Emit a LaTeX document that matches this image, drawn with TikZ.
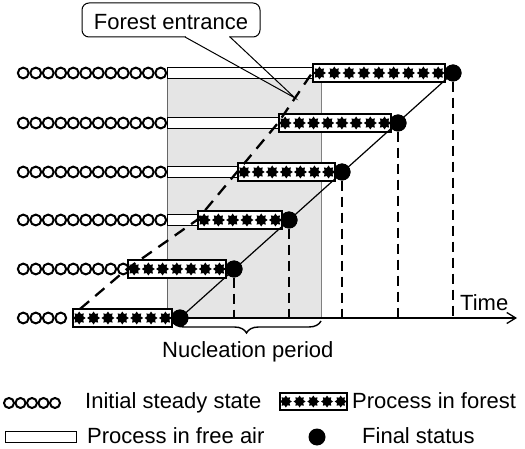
\documentclass[tikz,border=0pt]{standalone}
\usepackage{fontspec}
\setmainfont{Liberation Sans}
\usepackage{tikz}
\usetikzlibrary{calc, shapes.geometric, arrows.meta, decorations.pathreplacing}

\tikzset{
  airbox/.style={draw, fill=white, line width=1.4pt, minimum height=11pt, inner sep=0pt, anchor=west},
  forestbox/.style={draw, fill=white, line width=1.6pt, minimum height=18pt, inner sep=0pt, anchor=west},
  fdot/.style={circle, fill=black, minimum size=17pt, inner sep=0pt},
  ring/.style={line width=2pt},
  seed/.style={star, star points=8, star point ratio=1.5, fill=black, minimum size=13pt, inner sep=0pt},
  dropline/.style={line width=2.2pt, dash pattern=on 10pt off 6pt},
  lbl/.style={inner sep=0pt, anchor=base west},
}

\begin{document}
\begin{tikzpicture}[x=1pt, y=-1pt, font=\fontsize{22}{26}\selectfont]
  \useasboundingbox (0,0) rectangle (525,449);

  % nucleation zone
  \fill[gray!20] (167,79) rectangle (321,318);
  \draw[gray!80!black, line width=0.8pt] (167,79) -- (167,318);
  \draw[gray, line width=0.8pt] (321,79) -- (321,318);

  % initial steady state
  \foreach \y/\m in {73/12, 123/12, 172/12, 220/12, 269/9, 318/4}
    \foreach \k in {1,...,\m}
      \draw[ring] (23.25+12.5*\k-12.5, \y) circle (5.4pt);

  % process in free air
  \foreach \n/\r/\y in {1/312/73, 2/278/123, 3/237/172, 4/197/220}
    \node[airbox, minimum width={(\r-167)*1pt}] (a\n) at (167,\y) {};

  % final status
  \coordinate (tend) at (517,318);
  \node[fdot] (d1) at (453,73) {};
  \node[fdot] (d2) at (398,123) {};
  \node[fdot] (d3) at (342,172) {};
  \node[fdot] (d4) at (289,220) {};
  \node[fdot] (d5) at (234,269) {};
  \node[fdot] (d6) at (180,318) {};

  % process in forest
  \foreach \n/\l/\r/\y/\s in {1/312/444/73/9, 2/278/390/123/8, 3/237/334/172/7,
                               4/197/281/220/6, 5/127/225/269/7, 6/72/171/318/7}{
    \node[forestbox, minimum width={(\r-\l)*1pt}] (f\n) at (\l,\y) {};
    \foreach \k in {1,...,\s}
      \node[seed] at ($(f\n.west)!{(\k-0.5)/\s}!(f\n.east)$) {};
  }

  % forest entrance
  \coordinate (e0) at (80,309);
  \draw[line width=2.3pt, dash pattern=on 12pt off 8pt] (e0) -- (f5.west) -- (f4.west) -- (f3.west) -- (f2.west) -- (f1.west);

  \draw[line width=1.2pt] (d6.center) -- (d1.center);
  \foreach \n in {1,...,5}
    \draw[dropline] (d\n) -- (d\n |- tend);
  \foreach \n in {1,...,6}
    \fill (d\n) circle (8.5pt);

  \draw[line width=2.2pt, -{Straight Barb[length=9pt, width=11pt, line width=1.3pt]}] (d6.center) -- (tend);
  \node[lbl] (time) at (460,310) {Time};

  \draw[decorate, decoration={brace, mirror, amplitude=12pt}, line width=1.4pt] (172,321) -- (321,321);
  \node[lbl] (nuc) at (162,357) {Nucleation period};

  % callout
  \node[draw, rounded corners=7pt, line width=1pt, minimum width=178pt, minimum height=34pt,
        text height=20pt, text depth=0pt, inner sep=0pt] (ent) at (171,20) {Forest entrance};
  \coordinate (p1) at (185,37);
  \coordinate (p2) at (230,37);
  \coordinate (tip) at ($(f2.west)!0.5!(f1.west)$);
  \fill[white] ($(p1)+(1,-2)$) rectangle ($(p2)+(-1,2)$);
  \draw[line width=1pt] (p1) -- (tip) -- (p2);

  % legend
  \foreach \k in {1,...,5}
    \draw[ring] (9+11.5*\k-11.5, 403) circle (5pt);
  \node[lbl] (l1) at (85,408) {Initial steady state};
  \node[forestbox, minimum width=67pt, minimum height=17pt] (lf) at (279,401.5) {};
  \foreach \k in {1,...,5}
    \node[seed, minimum size=12pt] at ($(lf.west)!{(\k-0.5)/5}!(lf.east)$) {};
  \node[lbl] (l2) at (352,408) {Process in forest};
  \node[airbox, minimum width=71pt] (la) at (5,437) {};
  \node[lbl] (l3) at (87,443) {Process in free air};
  \node[fdot] (ld) at (317,437) {};
  \node[lbl] (l4) at (362,443) {Final status};
\end{tikzpicture}
\end{document}
